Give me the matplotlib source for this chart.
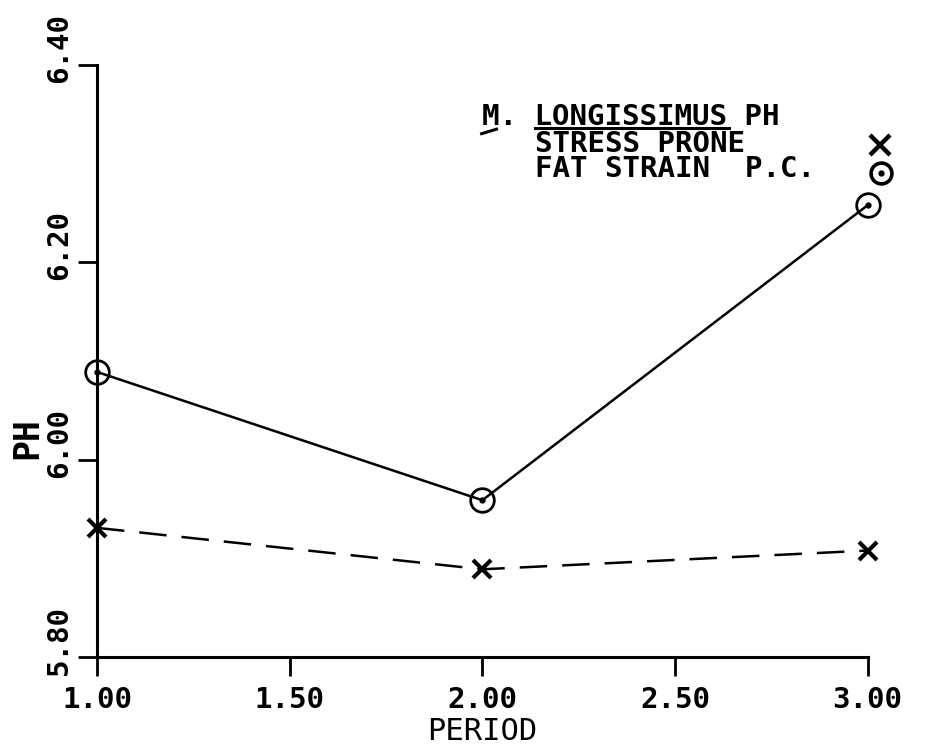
import matplotlib
matplotlib.use("Agg")
import matplotlib.pyplot as plt
from matplotlib.lines import Line2D
from matplotlib.transforms import ScaledTranslation

# data
period = [1.0, 2.0, 3.0]
ph_fat_strain = [6.089, 5.959, 6.258]
ph_stress_prone = [5.931, 5.889, 5.908]

x_ticks = [1.0, 1.5, 2.0, 2.5, 3.0]
x_tick_labels = ["1.00", "1.50", "2.00", "2.50", "3.00"]
y_ticks = [5.8, 6.0, 6.2, 6.4]
y_tick_labels = ["5.80", "6.00", "6.20", "6.40"]

FONT = "DejaVu Sans Mono"

fig = plt.figure(figsize=(9.28, 7.51), dpi=100)
ax = fig.add_axes([0.1045, 0.125, 0.8305, 0.7884])

# fat strain P.C. (circles, solid)
ax.plot(period, ph_fat_strain, "-", color="black", lw=1.8,
        marker="o", ms=17, mfc="none", mec="black", mew=2.0, clip_on=False)
ax.plot(period, ph_fat_strain, ls="none", marker="o", ms=3.5,
        color="black", clip_on=False)

# stress prone (crosses, dashed)
ax.plot(period, ph_stress_prone, color="black", lw=1.8, dashes=(11, 6),
        marker="x", ms=13, mew=3.0, clip_on=False)

ax.set_xlim(1.0, 3.0)
ax.set_ylim(5.8, 6.4)
ax.set_xticks(x_ticks)
ax.set_xticklabels(x_tick_labels, fontfamily=FONT, fontweight="bold",
                   fontsize=21)
ax.set_yticks(y_ticks)
ax.set_yticklabels(y_tick_labels, fontfamily=FONT, fontweight="bold",
                   fontsize=21, rotation=90, va="center")
ax.tick_params(direction="out", length=14, width=2.0)
ax.tick_params(axis="x", pad=7)
ax.tick_params(axis="y", pad=3)
for lab in ax.get_yticklabels():
    lab.set_transform(lab.get_transform() +
                      ScaledTranslation(0, 0.17, fig.dpi_scale_trans))
for s in ["top", "right"]:
    ax.spines[s].set_visible(False)
for s in ["left", "bottom"]:
    ax.spines[s].set_linewidth(2.2)

ax.set_xlabel("PERIOD", fontfamily=FONT, fontsize=22, labelpad=2)
ax.set_ylabel("PH", fontfamily=FONT, fontweight="bold", fontsize=25)
ax.yaxis.set_label_coords(-0.069, 0.37)

# legend block
LEG = dict(transform=ax.transAxes, fontfamily=FONT, fontweight="bold",
           fontsize=21, va="center")
ax.text(0.499, 0.913, "M. LONGISSIMUS PH", **LEG)
ax.text(0.568, 0.867, "STRESS PRONE", **LEG)
ax.text(0.568, 0.824, "FAT STRAIN  P.C.", **LEG)
ax.plot([1.0156], [0.865], transform=ax.transAxes, marker="x", ms=15,
        mew=3.2, color="black", clip_on=False)
ax.plot([1.017], [0.8176], transform=ax.transAxes, marker="o", ms=15,
        mfc="none", mec="black", mew=2.6, clip_on=False)
ax.plot([1.017], [0.8176], transform=ax.transAxes, marker="o", ms=3.5,
        color="black", clip_on=False)

# underlines in the legend title
fig.add_artist(Line2D([0.519, 0.535], [0.822, 0.828], color="black", lw=2.2))
fig.add_artist(Line2D([0.577, 0.786], [0.829, 0.829], color="black", lw=2.2))

fig.savefig("out.png", dpi=100)
